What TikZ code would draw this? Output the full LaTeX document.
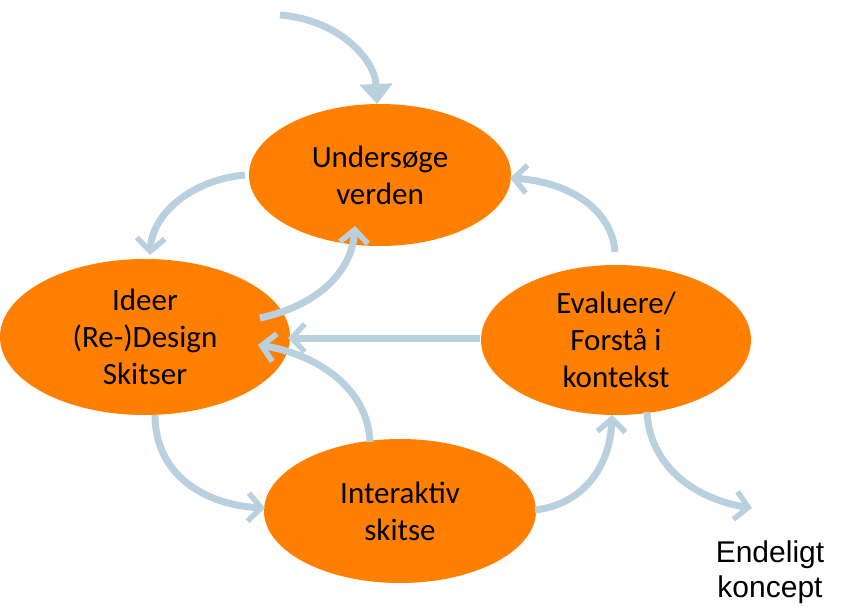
\documentclass[tikz,border=0pt]{standalone}
\usepackage{fontspec}
\setmainfont{Carlito}
\newfontfamily\arialf{Liberation Sans}
\usetikzlibrary{arrows.meta,shapes.geometric}
\definecolor{orng}{HTML}{FF8000}
\definecolor{arblue}{HTML}{B9D1DF}
\begin{document}
\begin{tikzpicture}[x=1pt,y=-1pt,
  phase/.style={ellipse, fill=orng, draw=none, align=center, font=\fontsize{31}{37}\selectfont, text=black, inner sep=0pt},
  flow/.style={draw=arblue, line width=7pt, -{Straight Barb[length=13pt,width=28pt,line width=5.5pt]}},
  flowhead/.style={draw=arblue, line width=7pt, -{Triangle[length=20pt,width=32pt]}}]
\useasboundingbox (0,0) rectangle (849,610);
\node[phase, minimum width=262pt, minimum height=142pt] (und) at (380,175) {Undersøge\\verden};
\node[phase, minimum width=290pt, minimum height=156pt] (ide) at (145,337) {Ideer\\(Re-)Design\\Skitser};
\node[phase, minimum width=270pt, minimum height=150pt] (eva) at (616,340) {Evaluere/\\Forstå i\\kontekst};
\node[phase, minimum width=272pt, minimum height=144pt] (int) at (400,511) {Interaktiv\\skitse};
\node[align=center, font=\arialf\fontsize{30}{35}\selectfont, inner sep=0pt] (end) at (770,572) {Endeligt\\koncept};

\coordinate (s0) at (280,15);
\coordinate (e0) at (377,104);
\coordinate (s1) at (245,175);
\coordinate (e1) at (150,255);
\coordinate (s2) at (260,318);
\coordinate (e2) at (355,226);
\coordinate (s3) at (480,338);
\coordinate (e3) at (288,338);
\coordinate (s4) at (370,442);
\coordinate (e4) at (258,345);
\coordinate (s5) at (155,415);
\coordinate (e5) at (265,508);
\coordinate (s6) at (535,510);
\coordinate (e6) at (612,415);
\coordinate (s7) at (647,412);
\coordinate (e7) at (752,508);
\coordinate (s8) at (615,252);
\coordinate (e8) at (510,178);

\draw[flowhead] (s0) .. controls (340,20) and (375,60) .. (e0);
\draw[flow] (s1) .. controls (190,180) and (152,215) .. (e1);
\draw[flow] (s2) .. controls (320,305) and (352,270) .. (e2);
\draw[flow] (s3) -- (e3);
\draw[flow] (s4) .. controls (368,390) and (320,355) .. (e4);
\draw[flow] (s5) .. controls (155,475) and (205,505) .. (e5);
\draw[flow] (s6) .. controls (580,505) and (610,470) .. (e6);
\draw[flow] (s7) .. controls (650,470) and (700,500) .. (e7);
\draw[flow] (s8) .. controls (612,210) and (570,182) .. (e8);
\end{tikzpicture}
\end{document}
